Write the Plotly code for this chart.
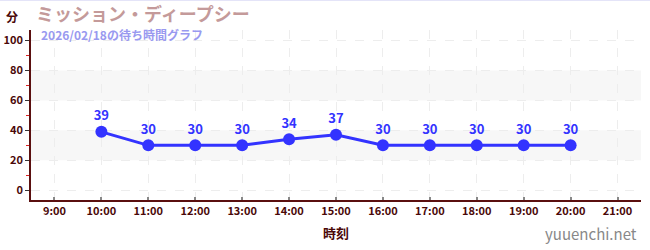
import plotly.graph_objects as go

hours = [10, 11, 12, 13, 14, 15, 16, 17, 18, 19, 20]
waits = [39, 30, 30, 30, 34, 37, 30, 30, 30, 30, 30]
tick_vals = [9, 10, 11, 12, 13, 14, 15, 16, 17, 18, 19, 20, 21]
tick_text = ["9:00", "10:00", "11:00", "12:00", "13:00", "14:00", "15:00",
             "16:00", "17:00", "18:00", "19:00", "20:00", "21:00"]
title_text = "ミッション・ディープシー"
subtitle_text = "2026/02/18の待ち時間グラフ"

FONT = "Noto Sans CJK JP"
AXIS = "#5a0f0f"
LABEL = "#4a0808"

fig = go.Figure()
fig.add_trace(go.Scatter(
    x=hours, y=waits, mode="lines+markers+text",
    line=dict(color="#3333ff", width=3),
    marker=dict(color="#3333ff", size=12),
    text=[str(v) for v in waits], textposition="top center",
    textfont=dict(color="#3333ff", size=13, family=FONT, weight="bold"),
    cliponaxis=False, hoverinfo="skip", showlegend=False,
))

shapes = []
for y0, y1 in [(20, 40), (60, 80)]:
    shapes.append(dict(type="rect", xref="paper", yref="y", x0=0, x1=1, y0=y0, y1=y1,
                       fillcolor="#f7f7f7", line=dict(width=0), layer="below"))
shapes.append(dict(type="line", xref="paper", yref="paper", x0=-0.06, x1=1.02, y0=1.176, y1=1.176,
                   line=dict(color="#e4e4f8", width=2)))

fig.update_layout(
    width=650, height=250,
    margin=dict(l=31, r=9, t=30, b=50, autoexpand=False),
    paper_bgcolor="white", plot_bgcolor="white",
    shapes=shapes,
    font=dict(family=FONT),
    xaxis=dict(
        range=[8.5, 21.5], tickmode="array", tickvals=tick_vals, ticktext=tick_text,
        automargin=False,
        showline=True, linecolor=AXIS, linewidth=1.5,
        ticks="inside", tickcolor="#888888", ticklen=3, tickwidth=2,
        tickfont=dict(color=LABEL, size=11, family=FONT, weight=600),
        showgrid=True, gridcolor="#ededed", griddash="dash", gridwidth=1,
        zeroline=False,
        title=dict(text="時刻", font=dict(color=LABEL, size=13, family=FONT, weight="bold"), standoff=12),
    ),
    yaxis=dict(
        range=[-6.5, 107], tickmode="array", tickvals=[0, 20, 40, 60, 80, 100],
        automargin=False,
        showline=True, linecolor=AXIS, linewidth=1.5,
        ticks="outside", tickcolor="#333333", ticklen=4,
        tickfont=dict(color=LABEL, size=11, family=FONT, weight=600),
        showgrid=True, gridcolor="#ededed", griddash="dash", gridwidth=1,
        zeroline=False,
        minor=dict(tickvals=[10, 30, 50, 70, 90], ticks="outside", ticklen=3,
                   tickcolor="#dd2222", showgrid=False),
    ),
    annotations=[
        dict(text="分", xref="paper", yref="paper", x=0.0, y=1.0, xanchor="center", yanchor="middle",
             xshift=-19, yshift=14, showarrow=False, borderpad=0,
             font=dict(color=LABEL, size=12, family=FONT, weight="bold")),
        dict(text=title_text, xref="paper", yref="paper", x=0.0, y=1.0, xanchor="left", yanchor="middle",
             xshift=4, yshift=17, showarrow=False, borderpad=0,
             font=dict(color="#c49a9a", size=18, family=FONT, weight="bold")),
        dict(text=subtitle_text, xref="paper", yref="paper", x=0.0, y=1.0, xanchor="left", yanchor="middle",
             xshift=9, yshift=-4, showarrow=False, borderpad=0,
             font=dict(color="#9999f0", size=12, family=FONT, weight="bold")),
        dict(text="yuuenchi.net", xref="paper", yref="paper", x=1.0, y=0.0, xanchor="right", yanchor="middle",
             xshift=-2, yshift=-33, showarrow=False,
             font=dict(color="#888888", size=15, family=FONT)),
    ],
)

fig.write_html("out.html")
